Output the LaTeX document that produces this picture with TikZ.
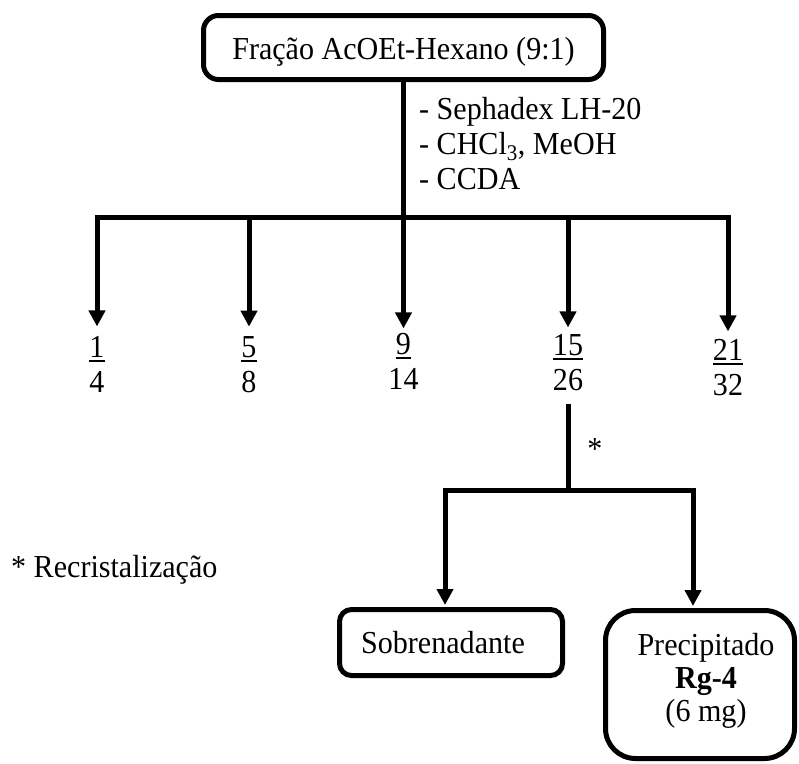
\documentclass[tikz,border=0pt]{standalone}
\usepackage{fontspec}
\setmainfont[FakeStretch=0.94]{Liberation Serif}
\usetikzlibrary{arrows.meta}
\newcommand\mystack[1]{\vtop{\halign{\hfil##\hfil\cr#1\crcr}}}
\newcommand\mystackl[1]{\vtop{\halign{##\hfil\cr#1\crcr}}}
\newcommand\myul[1]{\vtop{\hbox{#1}\kern2.5pt\hrule height 2pt}}
\begin{document}
\begin{tikzpicture}[x=1pt,y=-1pt,
  ln/.style={line width=5pt},
  arr/.style={line width=5pt,-{Triangle[width=16pt,length=16pt]}},
  box/.style={draw,line width=5pt,inner sep=0pt,font=\fontsize{32}{35}\selectfont},
  txt/.style={inner sep=0pt,font=\fontsize{32}{35}\selectfont},
  frac/.style={txt,anchor=base}]
\useasboundingbox (0,0) rectangle (799,763);
% top box
\node[box,rounded corners=15pt,minimum width=400pt,minimum height=64pt,
      text height=23pt,text depth=0pt] (top) at (403.5,47.5) {Fração AcOEt-Hexano (9:1)};
\node[txt,anchor=base west] (cond) at (419,119)
  {\mystackl{- Sephadex LH-20\cr - CHCl\textsubscript{3}, MeOH\cr - CCDA}};
% fractions
\node[frac] (f1) at (97,357) {\mystack{\myul{1}\cr 4}};
\node[frac] (f2) at (249,357) {\mystack{\myul{5}\cr 8}};
\node[frac] (f3) at (403.5,354) {\mystack{\myul{9}\cr 14}};
\node[frac] (f4) at (568,355) {\mystack{\myul{15}\cr 26}};
\node[frac] (f5) at (728,360) {\mystack{\myul{21}\cr 32}};
\coordinate (bar) at (403.5,217);
\coordinate (b1) at (f1 |- bar);
\coordinate (b2) at (f2 |- bar);
\coordinate (b3) at (f3 |- bar);
\coordinate (b4) at (f4 |- bar);
\coordinate (b5) at (f5 |- bar);
\draw[ln] (top.south) -- (bar);
\draw[ln,line cap=rect] (b1) -- (b5);
\draw[arr,shorten >=9.2pt] (b1) -- (f1.north);
\draw[arr,shorten >=9.2pt] (b2) -- (f2.north);
\draw[arr,shorten >=4.2pt] (b3) -- (f3.north);
\draw[arr,shorten >=6.2pt] (b4) -- (f4.north);
\draw[arr,shorten >=7.2pt] (b5) -- (f5.north);
% lower part
\node[box,rounded corners=12pt,minimum width=223pt,minimum height=66pt] (sob) at (451,642.5)
  {\hspace*{-16pt}Sobrenadante};
\node[box,rounded corners=30pt,minimum width=189pt,minimum height=148pt,
      font=\fontsize{32}{33}\selectfont,text height=20.5pt,text depth=79.5pt] (prec) at (700,684.5)
  {\hspace*{12pt}\mystack{Precipitado\cr\textbf{Rg-4}\cr(6 mg)}};
\coordinate (bar2) at (568,490);
\coordinate (c1) at (445,490);
\coordinate (c2) at (693,490);
\draw[ln,shorten <=13pt] (f4.south) -- (bar2);
\draw[ln,line cap=rect] (c1) -- (c2);
\draw[arr,shorten >=2pt] (c1) -- (c1 |- sob.north);
\draw[arr,shorten >=2pt] (c2) -- (c2 |- prec.north);
\node[txt,anchor=base] (star) at (595,459) {*};
\node[txt,anchor=base west] (note) at (11,577) {* Recristalização};
\end{tikzpicture}
\end{document}
